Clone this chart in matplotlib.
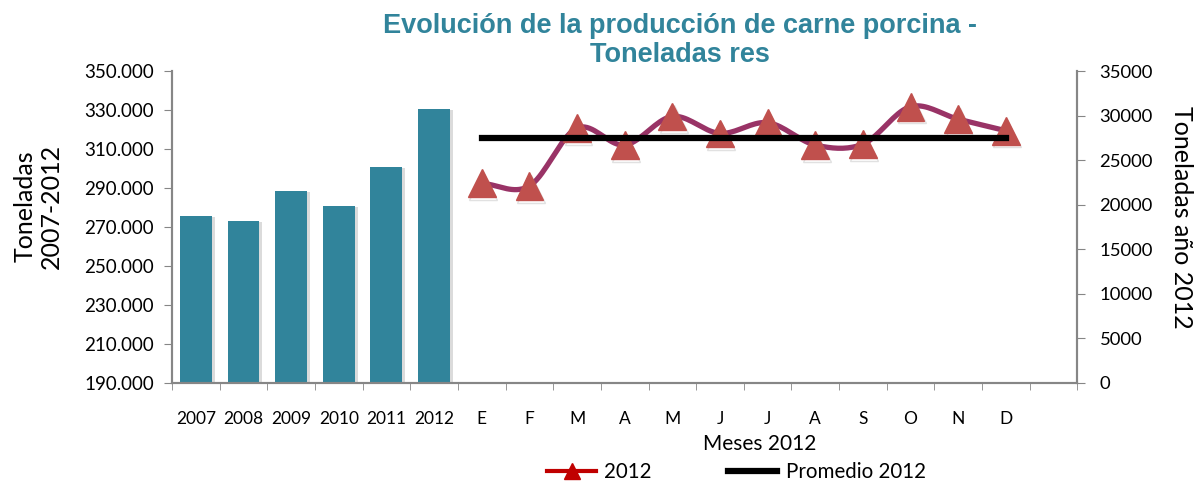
import matplotlib.pyplot as plt
import matplotlib.patheffects as pe
from matplotlib.ticker import FuncFormatter, FixedLocator
from matplotlib.lines import Line2D
import numpy as np

years = ["2007", "2008", "2009", "2010", "2011", "2012"]
year_tons = [275600, 273100, 288500, 280800, 300800, 330500]
months = ["E", "F", "M", "A", "M", "J", "J", "A", "S", "O", "N", "D"]
month_tons = [22400, 22100, 28600, 26700, 29900, 28000, 29200, 26700, 26800, 31000, 29600, 28300]
month_avg = 27500

TEAL = "#31849B"
plt.rcParams["font.family"] = ["Lato", "DejaVu Sans"]


def smooth(xs, ys, n=20):
    # Catmull-Rom style curve, like Excel's "smoothed line"
    xs = np.asarray(xs, float)
    ys = np.asarray(ys, float)
    px = np.concatenate([[2 * xs[0] - xs[1]], xs, [2 * xs[-1] - xs[-2]]])
    py = np.concatenate([[2 * ys[0] - ys[1]], ys, [2 * ys[-1] - ys[-2]]])
    out_x, out_y = [], []
    t = np.linspace(0, 1, n)
    for i in range(1, len(px) - 2):
        for p, o in ((px, out_x), (py, out_y)):
            p0, p1, p2, p3 = p[i - 1], p[i], p[i + 1], p[i + 2]
            o.extend(0.5 * (2 * p1 + (-p0 + p2) * t + (2 * p0 - 5 * p1 + 4 * p2 - p3) * t ** 2
                            + (-p0 + 3 * p1 - 3 * p2 + p3) * t ** 3))
    return out_x, out_y


fig = plt.figure(figsize=(11.99, 4.84), dpi=100)
ax = fig.add_axes([0.1435, 0.2087, 0.755, 0.6446])
ax2 = ax.twinx()

n_slots = len(years) + len(months) + 1
year_x = np.arange(len(years))
month_x = np.arange(len(years), len(years) + len(months))

ax.bar(year_x, year_tons, width=0.67, color=TEAL, zorder=2,
       path_effects=[pe.SimplePatchShadow(offset=(2, -1), shadow_rgbFace="#999999", alpha=0.35), pe.Normal()])
ax.set_ylim(190000, 350000)
ax.set_yticks(np.arange(190000, 350001, 20000))
ax.yaxis.set_major_formatter(FuncFormatter(lambda v, p: f"{int(v):,}".replace(",", ".")))
ax.set_xlim(-0.5, n_slots - 0.5)

ax.set_xticks(list(year_x) + list(month_x))
ax.set_xticklabels(years + months)
ax.xaxis.set_minor_locator(FixedLocator(np.arange(-0.5, n_slots, 1.0)))
ax.tick_params(axis="x", which="major", length=0, pad=20, labelsize=12.5)
ax.tick_params(axis="x", which="minor", length=5, color="#868686")
ax.tick_params(axis="y", length=6, color="#868686", labelsize=13.5, pad=7)

sx, sy = smooth(month_x, month_tons)
ax2.plot(sx, sy, color="#993366", lw=3.8, zorder=3)
ax2.plot(month_x, month_tons, ls="none", marker="^", ms=20, color="#C0504D", zorder=4,
         path_effects=[pe.SimpleLineShadow(offset=(1, -2), shadow_color="#888888", alpha=0.25), pe.Normal()])
ax2.plot([month_x[0], month_x[-1]], [month_avg, month_avg], color="black", lw=4.5, zorder=5)
ax2.set_ylim(0, 35000)
ax2.set_yticks(np.arange(0, 35001, 5000))
ax2.tick_params(axis="y", length=6, color="#868686", labelsize=13.3, pad=10)

for a in (ax, ax2):
    a.spines["top"].set_visible(False)
    for s in ("left", "right", "bottom"):
        a.spines[s].set_color("#868686")
        a.spines[s].set_linewidth(1.5)

fig.text(38 / 1199, 1 - 206 / 484, "Toneladas\n2007-2012", rotation=90, ha="center", va="center",
         fontsize=18, linespacing=1.15)
fig.text(1181 / 1199, 1 - 217 / 484, "Toneladas año 2012", rotation=270, ha="center", va="center",
         fontsize=18)

fig.text(0.567, 0.917, "Evolución de la producción de carne porcina -\nToneladas res",
         ha="center", va="center", fontsize=19.5, fontweight="bold", color=TEAL,
         family=["Liberation Sans", "DejaVu Sans"], linespacing=1.15)
fig.text(760 / 1199, 1 - 444 / 484, "Meses 2012", ha="center", va="center", fontsize=15)

handles = [Line2D([], [], color="#C00000", lw=3, marker="^", ms=11),
           Line2D([], [], color="black", lw=4.5)]
fig.legend(handles, ["2012", "Promedio 2012"], loc="center", bbox_to_anchor=(0.614, 0.025),
           ncol=2, frameon=False, fontsize=14.8, handlelength=2.4, columnspacing=3.7, handletextpad=0.4)

fig.savefig("out.png", dpi=100)
